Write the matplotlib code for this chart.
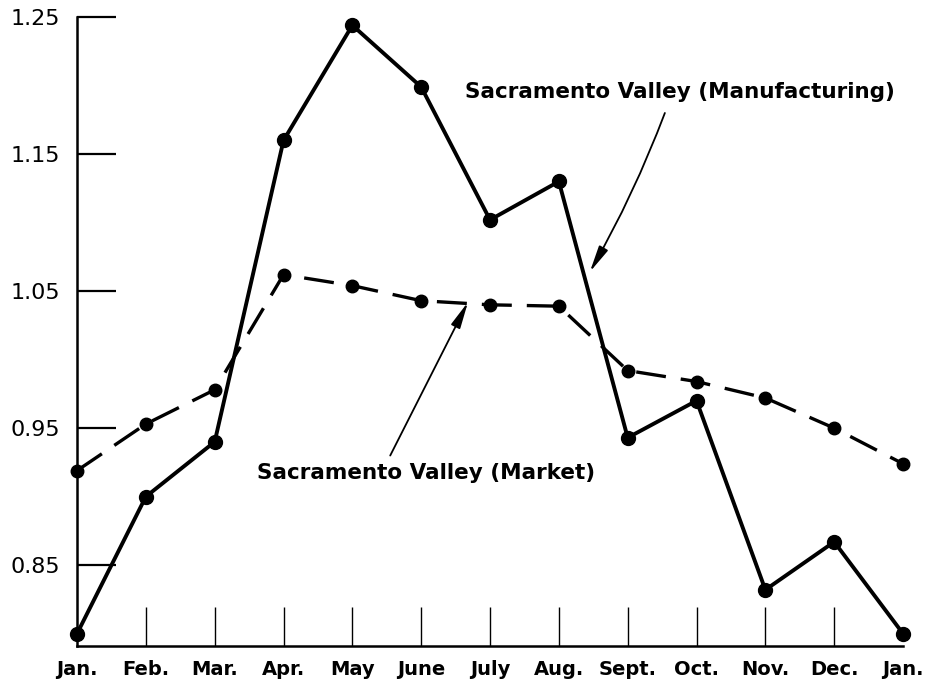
import matplotlib

matplotlib.use("Agg")
import matplotlib.pyplot as plt

months = ["Jan.", "Feb.", "Mar.", "Apr.", "May", "June", "July", "Aug.",
          "Sept.", "Oct.", "Nov.", "Dec.", "Jan."]
manufacturing = [0.800, 0.900, 0.940, 1.160, 1.244, 1.199, 1.102, 1.130,
                 0.943, 0.970, 0.832, 0.867, 0.800]
market = [0.919, 0.953, 0.978, 1.062, 1.054, 1.043, 1.040, 1.039,
          0.992, 0.984, 0.972, 0.950, 0.924]
y_ticks = [0.85, 0.95, 1.05, 1.15, 1.25]
y_tick_labels = ["0.85", "0.95", "1.05", "1.15", "1.25"]

plt.rcParams["font.family"] = ["DejaVu Sans"]

fig = plt.figure(figsize=(9.44, 6.83), dpi=100)
ax = fig.add_axes([0.0816, 0.0542, 0.875, 0.9208])

x = list(range(len(months)))
ax.plot(x, manufacturing, color="black", lw=2.8, marker="o", ms=10,
        clip_on=False, zorder=3)
ax.plot(x, market, color="black", lw=2.4, marker="o", ms=9,
        dashes=(9, 4.5), clip_on=False, zorder=3)

ax.set_xlim(0, 12)
ax.set_ylim(0.791, 1.25)
ax.set_xticks(x)
ax.set_xticklabels(months, fontsize=14, fontweight="semibold")
ax.set_yticks(y_ticks)
ax.set_yticklabels(y_tick_labels, fontsize=16)

for s in ("top", "right"):
    ax.spines[s].set_visible(False)
for s in ("left", "bottom"):
    ax.spines[s].set_linewidth(1.8)

ax.tick_params(axis="x", direction="in", length=28, width=1.0, pad=10)
ax.tick_params(axis="y", direction="in", length=28, width=1.6, pad=12)
# hide the tick marks at the two Jan. ends (they sit on the spines)
ticks = ax.xaxis.get_major_ticks()
ticks[0].tick1line.set_visible(False)
ticks[-1].tick1line.set_visible(False)

arrow = dict(arrowstyle="-|>,head_length=1.6,head_width=0.3",
             color="black", lw=1.3, shrinkA=0, shrinkB=0)

ax.text(8.76, 1.195, "Sacramento Valley (Manufacturing)", fontsize=15.5,
        fontweight="semibold", ha="center", va="center")
ax.annotate("", xy=(7.45, 1.064), xytext=(8.54, 1.180),
            arrowprops=dict(arrow, connectionstyle="arc3,rad=-0.04"))

ax.text(5.07, 0.917, "Sacramento Valley (Market)", fontsize=15.5,
        fontweight="semibold", ha="center", va="center")
ax.annotate("", xy=(5.68, 1.042), xytext=(4.55, 0.930), arrowprops=arrow)

fig.savefig("out.png", dpi=100)
